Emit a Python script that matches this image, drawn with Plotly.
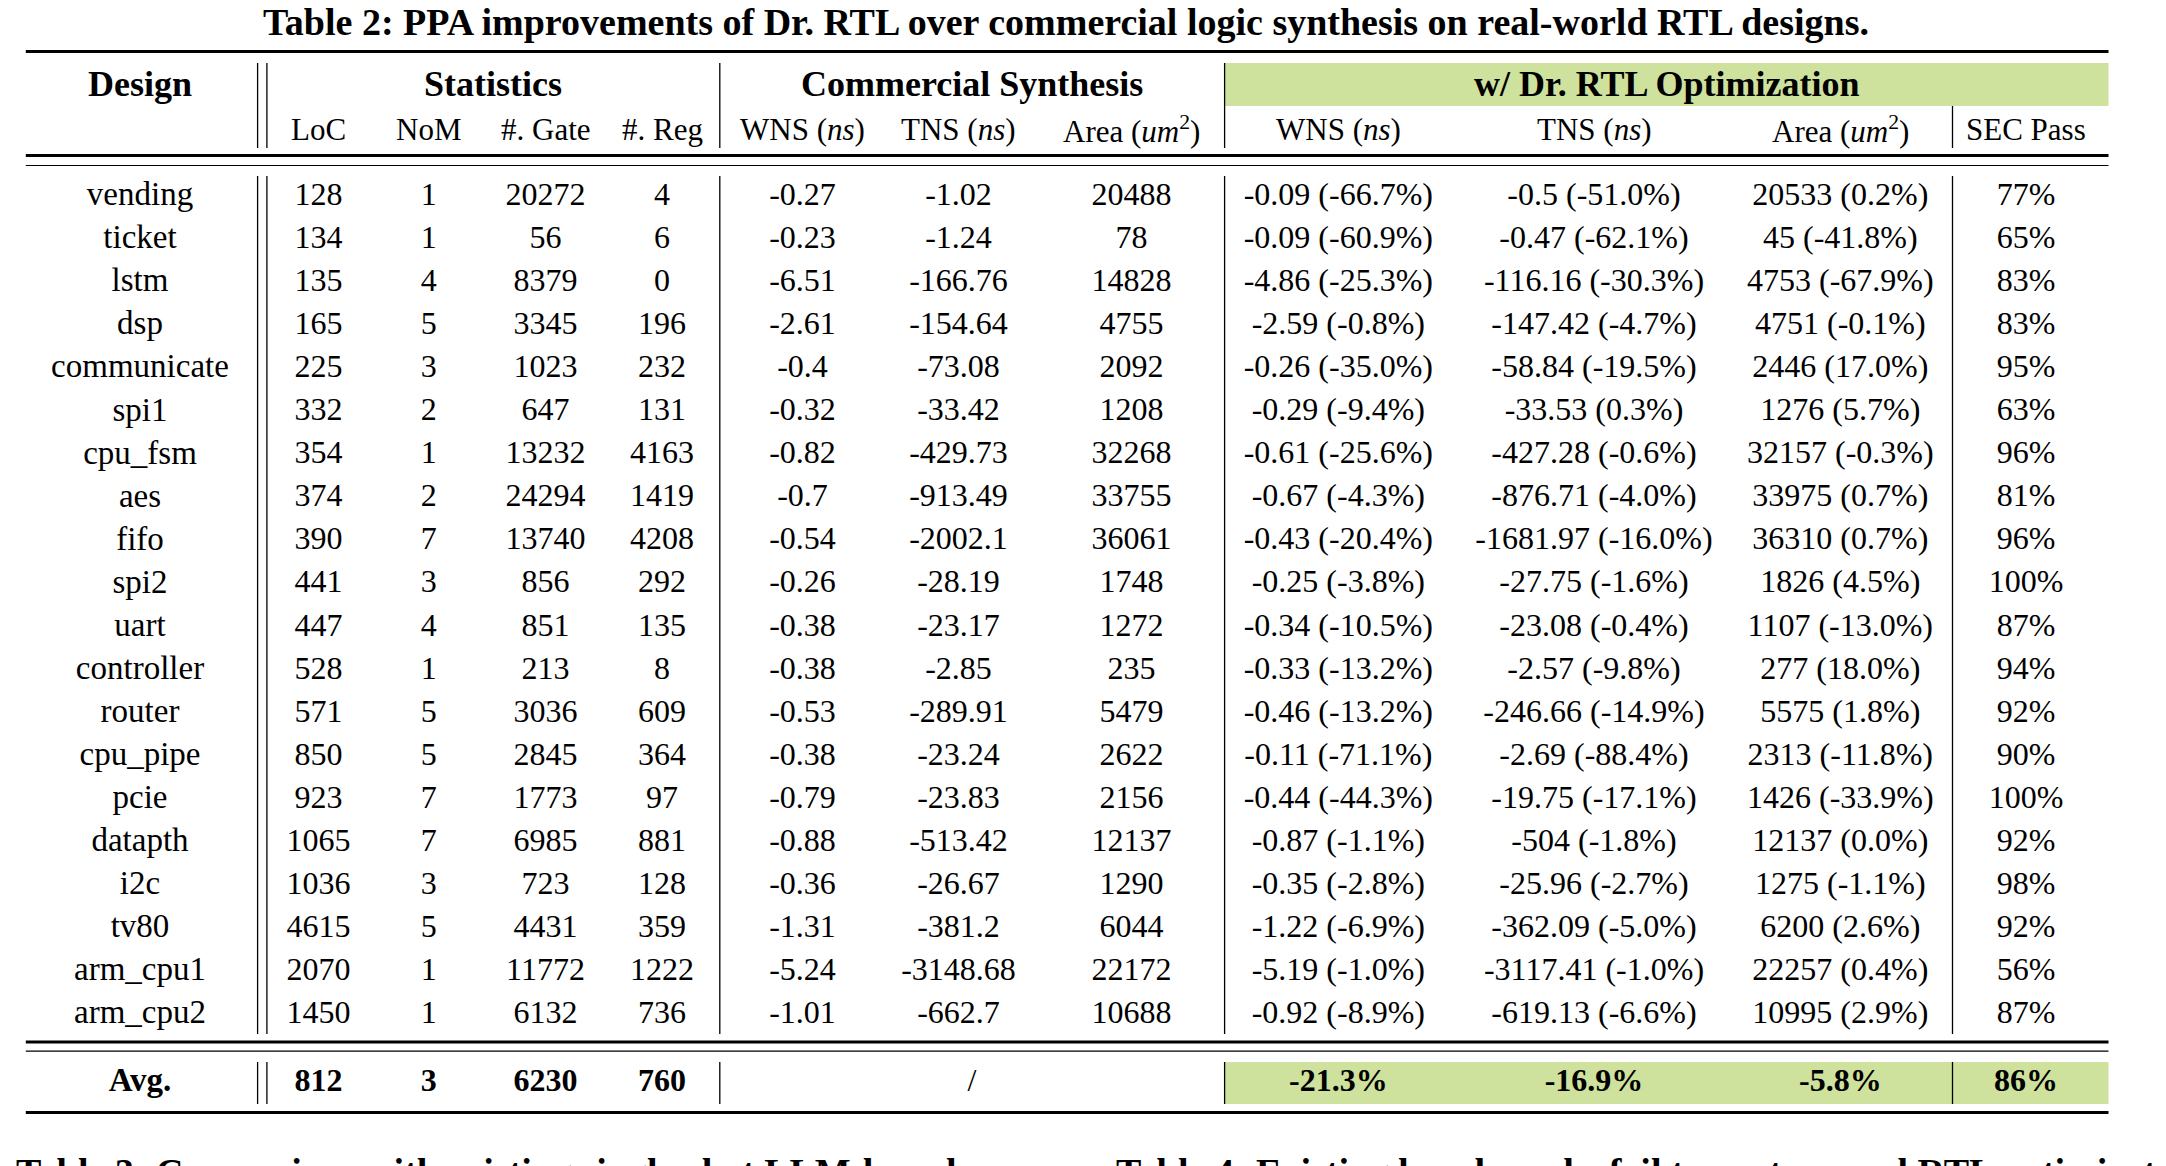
import plotly.graph_objects as go

# ---------------- data ----------------
designs = ["vending", "ticket", "lstm", "dsp", "communicate", "spi1", "cpu_fsm", "aes", "fifo", "spi2",
           "uart", "controller", "router", "cpu_pipe", "pcie", "datapth", "i2c", "tv80", "arm_cpu1", "arm_cpu2"]
loc = [128, 134, 135, 165, 225, 332, 354, 374, 390, 441, 447, 528, 571, 850, 923, 1065, 1036, 4615, 2070, 1450]
nom = [1, 1, 4, 5, 3, 2, 1, 2, 7, 3, 4, 1, 5, 5, 7, 7, 3, 5, 1, 1]
gate = [20272, 56, 8379, 3345, 1023, 647, 13232, 24294, 13740, 856, 851, 213, 3036, 2845, 1773, 6985, 723, 4431, 11772, 6132]
reg = [4, 6, 0, 196, 232, 131, 4163, 1419, 4208, 292, 135, 8, 609, 364, 97, 881, 128, 359, 1222, 736]
c_wns = [-0.27, -0.23, -6.51, -2.61, -0.4, -0.32, -0.82, -0.7, -0.54, -0.26, -0.38, -0.38, -0.53, -0.38, -0.79, -0.88, -0.36, -1.31, -5.24, -1.01]
c_tns = [-1.02, -1.24, -166.76, -154.64, -73.08, -33.42, -429.73, -913.49, -2002.1, -28.19, -23.17, -2.85, -289.91, -23.24, -23.83, -513.42, -26.67, -381.2, -3148.68, -662.7]
c_area = [20488, 78, 14828, 4755, 2092, 1208, 32268, 33755, 36061, 1748, 1272, 235, 5479, 2622, 2156, 12137, 1290, 6044, 22172, 10688]
o_wns = [-0.09, -0.09, -4.86, -2.59, -0.26, -0.29, -0.61, -0.67, -0.43, -0.25, -0.34, -0.33, -0.46, -0.11, -0.44, -0.87, -0.35, -1.22, -5.19, -0.92]
o_wns_pct = [-66.7, -60.9, -25.3, -0.8, -35.0, -9.4, -25.6, -4.3, -20.4, -3.8, -10.5, -13.2, -13.2, -71.1, -44.3, -1.1, -2.8, -6.9, -1.0, -8.9]
o_tns = [-0.5, -0.47, -116.16, -147.42, -58.84, -33.53, -427.28, -876.71, -1681.97, -27.75, -23.08, -2.57, -246.66, -2.69, -19.75, -504, -25.96, -362.09, -3117.41, -619.13]
o_tns_pct = [-51.0, -62.1, -30.3, -4.7, -19.5, 0.3, -0.6, -4.0, -16.0, -1.6, -0.4, -9.8, -14.9, -88.4, -17.1, -1.8, -2.7, -5.0, -1.0, -6.6]
o_area = [20533, 45, 4753, 4751, 2446, 1276, 32157, 33975, 36310, 1826, 1107, 277, 5575, 2313, 1426, 12137, 1275, 6200, 22257, 10995]
o_area_pct = [0.2, -41.8, -67.9, -0.1, 17.0, 5.7, -0.3, 0.7, 0.7, 4.5, -13.0, 18.0, 1.8, -11.8, -33.9, 0.0, -1.1, 2.6, 0.4, 2.9]
sec_pass = [77, 65, 83, 83, 95, 63, 96, 81, 96, 100, 87, 94, 92, 90, 100, 92, 98, 92, 56, 87]

avg_label = "Avg."
avg_stats = [812, 3, 6230, 760]
avg_commercial = "/"
avg_opt_pct = [-21.3, -16.9, -5.8]
avg_sec = 86

title = "Table 2: PPA improvements of Dr. RTL over commercial logic synthesis on real-world RTL designs."
group_headers = ["Design", "Statistics", "Commercial Synthesis", "w/ Dr. RTL Optimization"]
sub_headers = ["LoC", "NoM", "#. Gate", "#. Reg",
               "WNS (<i>ns</i>)", "TNS (<i>ns</i>)", "Area (<i>um</i><sup>2</sup>)",
               "WNS (<i>ns</i>)", "TNS (<i>ns</i>)", "Area (<i>um</i><sup>2</sup>)", "SEC Pass"]
next_captions = ["Table 3: Comparison with existing single-shot LLM-based",
                 "Table 4: Existing benchmarks fail to capture real RTL optimization"]

# ---------------- layout constants (page pixels) ----------------
W, H = 2166, 1166
OFF = 8                      # default page body margin: axis ranges are shifted so values are page pixels
FONT = "Liberation Serif"
GREEN = "#cee19d"
X_L, X_R = 25.8, 2108.5
COL_X = [140, 318.5, 428.7, 545.5, 662, 802.5, 958.5, 1131.5, 1338.3, 1594, 1840.3, 2026]
GROUP_X = [140, 493, 972, 1666.5]
TITLE_X = 1066
VL_DOUBLE = [257.6, 266.9]
VL_1, VL_2, VL_3 = 719.8, 1224.6, 1952.5
ROW0, ROW_H = 197, 43.05
HDR1_Y, HDR2_Y = 84, 129
AVG_Y = 1083
NAME_SIZE = 33
NUM_SIZE = 32
SUB_SIZE = 31
BOLD = 36
TITLE_SIZE = 38

def fmt(v):
    return f"{v:g}"

def fmt_pct(v, p):
    return f"{v:g} ({p:.1f}%)"

rows_y = [ROW0 + i * ROW_H for i in range(len(designs))]

columns = [
    designs,
    [fmt(v) for v in loc],
    [fmt(v) for v in nom],
    [fmt(v) for v in gate],
    [fmt(v) for v in reg],
    [fmt(v) for v in c_wns],
    [fmt(v) for v in c_tns],
    [fmt(v) for v in c_area],
    [fmt_pct(v, p) for v, p in zip(o_wns, o_wns_pct)],
    [fmt_pct(v, p) for v, p in zip(o_tns, o_tns_pct)],
    [fmt_pct(v, p) for v, p in zip(o_area, o_area_pct)],
    [f"{v}%" for v in sec_pass],
]

fig = go.Figure()

for k, (cx, col) in enumerate(zip(COL_X, columns)):
    fig.add_trace(go.Scatter(
        x=[cx] * len(col), y=rows_y, text=col, mode="text",
        textposition="middle center",
        textfont=dict(family=FONT, size=NAME_SIZE if k == 0 else NUM_SIZE, color="black"),
        hoverinfo="skip", showlegend=False))

# Avg row
avg_x = [COL_X[0]] + COL_X[1:5] + [GROUP_X[2]] + COL_X[8:12]
avg_text = ([f"<b>{avg_label}</b>"] + [f"<b>{fmt(v)}</b>" for v in avg_stats] + [avg_commercial]
            + [f"<b>{v:.1f}%</b>" for v in avg_opt_pct] + [f"<b>{avg_sec}%</b>"])
avg_sizes = [NAME_SIZE] + [NUM_SIZE] * (len(avg_x) - 1)
fig.add_trace(go.Scatter(
    x=avg_x, y=[AVG_Y] * len(avg_x), text=avg_text, mode="text",
    textposition="middle center",
    textfont=dict(family=FONT, size=avg_sizes, color="black"),
    hoverinfo="skip", showlegend=False))

shapes = []

def hline(y, w, x0=X_L, x1=X_R):
    shapes.append(dict(type="line", xref="x", yref="y", x0=x0, x1=x1, y0=y, y1=y,
                       line=dict(color="black", width=w), layer="above"))

def vline(x, y0, y1, w=1.3):
    shapes.append(dict(type="line", xref="x", yref="y", x0=x, x1=x, y0=y0, y1=y1,
                       line=dict(color="black", width=w), layer="above"))

def rect(x0, x1, y0, y1):
    shapes.append(dict(type="rect", xref="x", yref="y", x0=x0, x1=x1, y0=y0, y1=y1,
                       fillcolor=GREEN, line=dict(width=0), layer="below"))

rect(VL_2, X_R, 63, 106)
rect(VL_2, X_R, 1062, 1104)

hline(51.5, 3)
hline(155.5, 3)
hline(165.5, 1.2)
hline(1042, 3)
hline(1051.2, 1.2)
hline(1112.5, 3)

for (y0, y1) in [(63, 148), (176, 1034), (1062, 1104)]:
    for x in VL_DOUBLE:
        vline(x, y0, y1)
    vline(VL_1, y0, y1)
    vline(VL_2, y0, y1)
for (y0, y1) in [(106, 148), (176, 1034), (1062, 1104)]:
    vline(VL_3, y0, y1)

annotations = []
annotations.append(dict(x=TITLE_X, y=22, xref="x", yref="y", text=f"<b>{title}</b>", showarrow=False,
                        xanchor="center", yanchor="middle",
                        font=dict(family=FONT, size=TITLE_SIZE, color="black")))
for gx, g in zip(GROUP_X, group_headers):
    annotations.append(dict(x=gx, y=HDR1_Y, xref="x", yref="y", text=f"<b>{g}</b>", showarrow=False,
                            xanchor="center", yanchor="middle",
                            font=dict(family=FONT, size=BOLD, color="black")))
for sx, s in zip(COL_X[1:], sub_headers):
    annotations.append(dict(x=sx, y=HDR2_Y, xref="x", yref="y", text=s, showarrow=False,
                            xanchor="center", yanchor="middle",
                            font=dict(family=FONT, size=SUB_SIZE, color="black")))

fig_w, fig_h = W - OFF, H - OFF
# captions of the next tables, cut by the bottom edge of the picture (paper coords)
for cx, c in zip([14, 1114], next_captions):
    annotations.append(dict(x=(cx - OFF) / fig_w, y=(H - 1172) / fig_h, xref="paper", yref="paper",
                            text=f"<b>{c}</b>", showarrow=False,
                            xanchor="left", yanchor="middle",
                            font=dict(family=FONT, size=TITLE_SIZE, color="black")))

fig.update_layout(
    width=fig_w, height=fig_h, margin=dict(l=0, r=0, t=0, b=0),
    paper_bgcolor="white", plot_bgcolor="white",
    xaxis=dict(range=[OFF, W], visible=False, fixedrange=True),
    yaxis=dict(range=[H, OFF], visible=False, fixedrange=True),
    shapes=shapes, annotations=annotations, showlegend=False,
)

fig.write_html("out.html")
